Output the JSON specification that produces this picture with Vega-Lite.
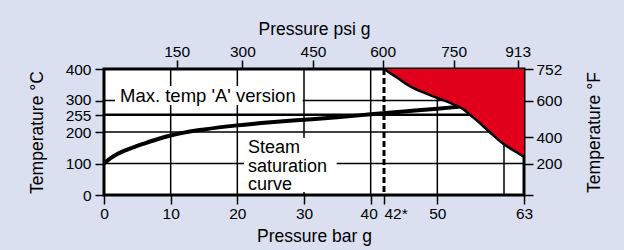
{
  "$schema": "https://vega.github.io/schema/vega-lite/v6.json",
  "width": 420,
  "height": 126,
  "autosize": {"type": "none"},
  "padding": {"left": 104, "top": 69, "right": 100, "bottom": 55},
  "background": "#dbe0f1",
  "datasets": {
    "vgrid": [{"bar": 10}, {"bar": 20}, {"bar": 30}, {"bar": 40}, {"bar": 50}, {"bar": 60}],
    "hgrid": [{"temp": 100}, {"temp": 200}, {"temp": 300}],
    "saturation": [
      {"bar": 0, "temp": 100}, {"bar": 1, "temp": 117}, {"bar": 2, "temp": 130},
      {"bar": 3, "temp": 140}, {"bar": 4.5, "temp": 152}, {"bar": 6, "temp": 163},
      {"bar": 8, "temp": 177}, {"bar": 10, "temp": 189}, {"bar": 12, "temp": 198},
      {"bar": 15, "temp": 208}, {"bar": 20, "temp": 221}, {"bar": 25, "temp": 231},
      {"bar": 30, "temp": 239}, {"bar": 35, "temp": 247}, {"bar": 40, "temp": 256},
      {"bar": 45, "temp": 265}, {"bar": 50, "temp": 274}, {"bar": 53.2, "temp": 280}
    ],
    "limit": [
      {"bar": 42, "temp": 400}, {"bar": 44, "temp": 372}, {"bar": 46, "temp": 344},
      {"bar": 48, "temp": 325}, {"bar": 50, "temp": 308}, {"bar": 52, "temp": 292},
      {"bar": 53, "temp": 282}, {"bar": 54, "temp": 271}, {"bar": 55, "temp": 253},
      {"bar": 56.5, "temp": 226}, {"bar": 58, "temp": 197}, {"bar": 60, "temp": 161},
      {"bar": 61.5, "temp": 141}, {"bar": 63, "temp": 121}
    ]
  },
  "config": {
    "view": {"fill": "white", "stroke": "black", "strokeWidth": 3},
    "font": "Liberation Sans",
    "axis": {
      "domain": false,
      "grid": false,
      "labelFont": "Liberation Sans",
      "labelFontSize": 15.5,
      "labelColor": "black",
      "labelPadding": 2,
      "labelOverlap": false,
      "labelBound": false,
      "labelFlush": false,
      "tickColor": "black",
      "tickWidth": 1.5,
      "tickSize": 9,
      "titleFont": "Liberation Sans",
      "titleFontSize": 17.5,
      "titleFontWeight": "normal",
      "titleColor": "black"
    }
  },
  "resolve": {"axis": {"x": "independent", "y": "independent"}},
  "layer": [
    {
      "data": {"name": "vgrid"},
      "mark": {"type": "rule", "color": "black", "strokeWidth": 1.5},
      "encoding": {
        "x": {
          "field": "bar", "type": "quantitative",
          "scale": {"domain": [0, 63], "nice": false, "zero": false},
          "axis": {
            "orient": "bottom",
            "title": "Pressure bar g",
            "values": [0, 10, 20, 30, 40, 42, 50, 63],
            "labelExpr": "datum.value == 42 ? '42*' : datum.label",
            "labelOffset": {"condition": {"test": "datum.value == 40", "value": -2}, "value": 0},
            "labelAlign": {"condition": {"test": "datum.value == 42", "value": "left"}, "value": "center"},
            "titlePadding": 6
          }
        }
      }
    },
    {
      "data": {"name": "hgrid"},
      "mark": {"type": "rule", "color": "black", "strokeWidth": 1.5},
      "encoding": {
        "y": {
          "field": "temp", "type": "quantitative",
          "scale": {"domain": [0, 400], "nice": false, "zero": false},
          "axis": {
            "orient": "left",
            "title": "Temperature °C",
            "values": [0, 100, 200, 255, 300, 400],
            "labelOffset": {"condition": [{"test": "datum.value == 300", "value": -1.5}, {"test": "datum.value == 255", "value": 1}], "value": 0},
            "labelPadding": 4,
            "labelBaseline": "middle",
            "titlePadding": 19
          }
        }
      }
    },
    {
      "data": {"values": [{}]},
      "mark": {"type": "rect", "fill": "white"},
      "encoding": {
        "x": {"datum": 1.65, "type": "quantitative", "axis": null},
        "x2": {"datum": 29.8},
        "y": {"datum": 286, "type": "quantitative", "axis": null},
        "y2": {"datum": 346}
      }
    },
    {
      "data": {"values": [{}]},
      "mark": {"type": "rect", "fill": "white"},
      "encoding": {
        "x": {"datum": 21, "type": "quantitative", "axis": null},
        "x2": {"datum": 34.9},
        "y": {"datum": 9.5, "type": "quantitative", "axis": null},
        "y2": {"datum": 181}
      }
    },
    {
      "data": {"values": [{}]},
      "mark": {"type": "rule", "color": "black", "strokeWidth": 2.5},
      "encoding": {
        "y": {"datum": 255, "type": "quantitative", "axis": null}
      }
    },
    {
      "data": {"name": "saturation"},
      "mark": {"type": "line", "color": "black", "strokeWidth": 4, "interpolate": "monotone"},
      "encoding": {
        "x": {"field": "bar", "type": "quantitative", "axis": null},
        "y": {
          "field": "temp", "type": "quantitative",
          "axis": {
            "orient": "right",
            "title": "Temperature °F",
            "titleAngle": 270,
            "titleBaseline": "top",
            "values": [0, 100, 184, 300, 400],
            "labelExpr": "['', '200', '400', '600', '752'][indexof([0, 100, 184, 300, 400], datum.value)]",
            "labelBaseline": "middle",
            "labelPadding": 3,
            "titlePadding": 24
          }
        }
      }
    },
    {
      "data": {"name": "limit"},
      "mark": {"type": "area", "color": "#e1001b", "interpolate": "monotone"},
      "encoding": {
        "x": {
          "field": "bar", "type": "quantitative",
          "axis": {
            "orient": "top",
            "title": "Pressure psi g",
            "values": [10.9, 20.75, 31.35, 41.8, 52.45, 62.05],
            "labelExpr": "['150', '300', '450', '600', '750', '913'][indexof([10.9, 20.75, 31.35, 41.8, 52.45, 62.05], datum.value)]",
            "labelPadding": 1,
            "titlePadding": 6
          }
        },
        "y": {"field": "temp", "type": "quantitative", "axis": null},
        "y2": {"datum": 400}
      }
    },
    {
      "data": {"name": "limit"},
      "mark": {"type": "line", "color": "black", "strokeWidth": 2.5, "interpolate": "monotone"},
      "encoding": {
        "x": {"field": "bar", "type": "quantitative", "axis": null},
        "y": {"field": "temp", "type": "quantitative", "axis": null}
      }
    },
    {
      "data": {"values": [{}]},
      "mark": {"type": "rule", "color": "black", "strokeWidth": 3, "strokeDash": [6, 3]},
      "encoding": {
        "x": {"datum": 42, "type": "quantitative", "axis": null}
      }
    },
    {
      "data": {"values": [{}]},
      "mark": {"type": "text", "text": "Max. temp 'A' version", "font": "Liberation Sans", "fontSize": 18.5, "align": "left", "baseline": "alphabetic", "color": "black"},
      "encoding": {
        "x": {"datum": 2.4, "type": "quantitative", "axis": null},
        "y": {"datum": 296, "type": "quantitative", "axis": null}
      }
    },
    {
      "data": {"values": [{}]},
      "mark": {"type": "text", "text": ["Steam", "saturation", "curve"], "font": "Liberation Sans", "fontSize": 18, "lineHeight": 18.5, "align": "left", "baseline": "alphabetic", "color": "black"},
      "encoding": {
        "x": {"datum": 21.6, "type": "quantitative", "axis": null},
        "y": {"datum": 132.7, "type": "quantitative", "axis": null}
      }
    }
  ]
}
